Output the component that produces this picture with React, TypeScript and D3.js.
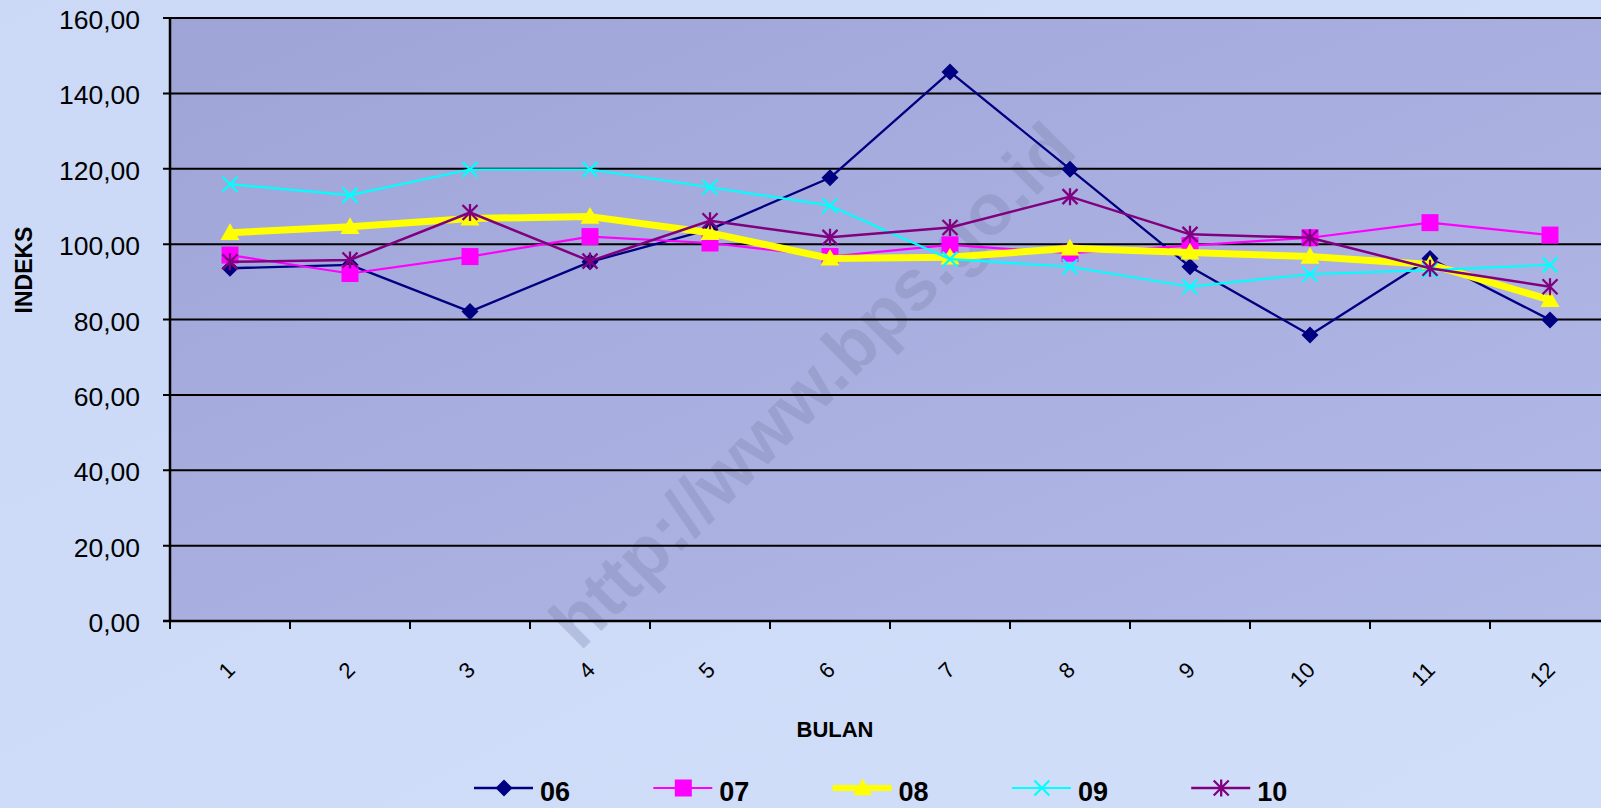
import React from "react";
import * as d3 from "d3";

const months = ["1", "2", "3", "4", "5", "6", "7", "8", "9", "10", "11", "12"];
const yTicks = [0, 20, 40, 60, 80, 100, 120, 140, 160];
const s06 = [93.6, 94.5, 82.1, 95.3, 103.9, 117.6, 145.7, 119.9, 94.0, 75.9, 96.2, 79.9];
const s07 = [97.1, 92.2, 96.7, 102.0, 100.3, 96.7, 99.8, 97.6, 99.6, 101.7, 105.7, 102.4];
const s08 = [103.0, 104.6, 106.8, 107.3, 103.0, 96.2, 96.5, 98.9, 97.8, 96.7, 94.6, 85.2];
const s09 = [115.9, 113.0, 119.8, 119.8, 115.1, 110.2, 96.0, 94.0, 88.7, 92.0, 93.1, 94.5];
const s10 = [95.3, 95.8, 108.4, 95.5, 106.2, 101.8, 104.4, 112.6, 102.6, 101.7, 93.6, 88.7];

const seriesNames = ["06", "07", "08", "09", "10"];

type Series = { name: string; values: number[]; color: string; width: number; marker: string };

const series: Series[] = [
  { name: seriesNames[0], values: s06, color: "#000080", width: 2.3, marker: "diamond" },
  { name: seriesNames[1], values: s07, color: "#FF00FF", width: 2.2, marker: "square" },
  { name: seriesNames[2], values: s08, color: "#FFFF00", width: 7, marker: "triangle" },
  { name: seriesNames[3], values: s09, color: "#00FFFF", width: 2.2, marker: "x" },
  { name: seriesNames[4], values: s10, color: "#800080", width: 2.5, marker: "star" },
];

const W = 1601;
const H = 808;
const left = 170;
const right = 1610;
const top = 18;
const bottom = 621;

function Marker({ type, x, y, color }: { type: string; x: number; y: number; color: string }) {
  if (type === "diamond") {
    const r = 8.5;
    return <path d={`M${x},${y - r}L${x + r},${y}L${x},${y + r}L${x - r},${y}Z`} fill={color} />;
  }
  if (type === "square") {
    const r = 8.5;
    return <rect x={x - r} y={y - r} width={2 * r} height={2 * r} fill={color} />;
  }
  if (type === "triangle") {
    const r = 9.5;
    return <path d={`M${x},${y - r}L${x + r},${y + r * 0.75}L${x - r},${y + r * 0.75}Z`} fill={color} />;
  }
  if (type === "x") {
    const r = 7.5;
    return (
      <path
        d={`M${x - r},${y - r}L${x + r},${y + r}M${x - r},${y + r}L${x + r},${y - r}`}
        stroke={color}
        strokeWidth={2.2}
      />
    );
  }
  const r = 7.5;
  return (
    <path
      d={`M${x - r},${y - r}L${x + r},${y + r}M${x - r},${y + r}L${x + r},${y - r}M${x},${y - r - 1}L${x},${y + r + 1}`}
      stroke={color}
      strokeWidth={2.3}
    />
  );
}

export default function App() {
  const x = d3.scaleBand<string>().domain(months).range([left, right]);
  const y = d3.scaleLinear().domain([0, 160]).range([bottom, top]);
  const cx = (m: string) => (x(m) as number) + x.bandwidth() / 2;
  const line = d3
    .line<number>()
    .x((_, i) => cx(months[i]))
    .y((v) => y(v));
  const fmt = (v: number) => v.toFixed(2).replace(".", ",");
  const legendX0 = 474;
  const legendStep = 179.3;

  return (
    <svg
      width={W}
      height={H}
      style={{ position: "absolute", left: 0, top: 0, display: "block" }}
      fontFamily="'Liberation Sans', Arial, sans-serif"
    >
      <defs>
        <linearGradient id="pageBg" x1="0" y1="0" x2="1" y2="1">
          <stop offset="0" stopColor="#CBD9F6" />
          <stop offset="1" stopColor="#D0DEFA" />
        </linearGradient>
        <linearGradient id="plotBg" x1="0" y1="0" x2="1" y2="1">
          <stop offset="0" stopColor="#9FA4D7" />
          <stop offset="1" stopColor="#B2BAE8" />
        </linearGradient>
      </defs>
      <rect x={0} y={0} width={W} height={H} fill="url(#pageBg)" />
      <rect x={left} y={top} width={right - left} height={bottom - top} fill="url(#plotBg)" />

      {/* watermark */}
      <text
        transform="translate(812,385) rotate(-45)"
        textAnchor="middle"
        dominantBaseline="central"
        fontSize={72}
        fontWeight="bold"
        fill="#7A80A8"
        opacity={0.3}
      >
        http://www.bps.go.id
      </text>

      {/* gridlines */}
      {yTicks.map((t) => (
        <line key={t} x1={left - 7} x2={right} y1={y(t)} y2={y(t)} stroke="#000" strokeWidth={t === 0 ? 2.5 : 2} />
      ))}
      <line x1={left} x2={left} y1={top} y2={bottom} stroke="#000" strokeWidth={2.5} />

      {/* y tick labels */}
      {yTicks.map((t) => (
        <text key={t} x={140} y={y(t) + 2} textAnchor="end" dominantBaseline="central" fontSize={26.5} fill="#000">
          {fmt(t)}
        </text>
      ))}

      {/* x ticks */}
      {d3.range(months.length + 1).map((i) => (
        <line
          key={i}
          x1={left + i * x.bandwidth()}
          x2={left + i * x.bandwidth()}
          y1={bottom}
          y2={bottom + 8}
          stroke="#000"
          strokeWidth={2}
        />
      ))}
      {months.map((m) => (
        <text
          key={m}
          transform={`translate(${cx(m) + 1},666) rotate(-45)`}
          textAnchor="end"
          dominantBaseline="central"
          fontSize={22}
          fill="#000"
        >
          {m}
        </text>
      ))}

      {/* axis titles */}
      <text
        transform="translate(24,270) rotate(-90)"
        textAnchor="middle"
        dominantBaseline="central"
        fontSize={23}
        fontWeight="bold"
        fill="#000"
      >
        INDEKS
      </text>
      <text x={835} y={729} textAnchor="middle" dominantBaseline="central" fontSize={22} fontWeight="bold" fill="#000">
        BULAN
      </text>

      {/* series */}
      {series.map((s) => (
        <g key={s.name}>
          <path d={line(s.values) || ""} fill="none" stroke={s.color} strokeWidth={s.width} strokeLinejoin="round" />
          {s.values.map((v, i) => (
            <Marker key={i} type={s.marker} x={cx(months[i])} y={y(v)} color={s.color} />
          ))}
        </g>
      ))}

      {/* legend */}
      {series.map((s, i) => {
        const lx = legendX0 + i * legendStep;
        return (
          <g key={s.name}>
            <line x1={lx} x2={lx + 59} y1={788} y2={788} stroke={s.color} strokeWidth={s.width === 7 ? 6 : s.width} />
            <Marker type={s.marker} x={lx + 30} y={788} color={s.color} />
            <text x={lx + 66} y={792} dominantBaseline="central" fontSize={27} fontWeight="bold" fill="#000">
              {s.name}
            </text>
          </g>
        );
      })}
    </svg>
  );
}
